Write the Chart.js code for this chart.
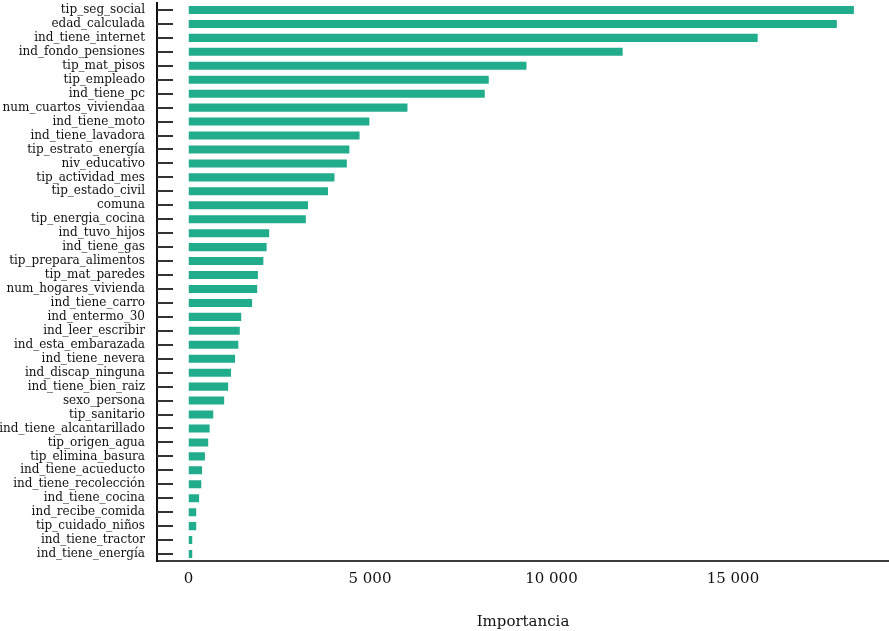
<!DOCTYPE html>
<html>
<head>
<meta charset="utf-8">
<script src="https://cdn.jsdelivr.net/npm/chart.js"></script>
<style>
  html, body { margin: 0; padding: 0; background: #fff; }
  #wrap { width: 889px; height: 631px; position: relative; }
</style>
</head>
<body>
<div id="wrap"><canvas id="importanceChart"></canvas></div>
<script>
// Variables and importance values
const variables = [
  "tip_seg_social", "edad_calculada", "ind_tiene_internet", "ind_fondo_pensiones",
  "tip_mat_pisos", "tip_empleado", "ind_tiene_pc", "num_cuartos_viviendaa",
  "ind_tiene_moto", "ind_tiene_lavadora", "tip_estrato_energía", "niv_educativo",
  "tip_actividad_mes", "tip_estado_civil", "comuna", "tip_energia_cocina",
  "ind_tuvo_hijos", "ind_tiene_gas", "tip_prepara_alimentos", "tip_mat_paredes",
  "num_hogares_vivienda", "ind_tiene_carro", "ind_entermo_30", "ind_leer_escribir",
  "ind_esta_embarazada", "ind_tiene_nevera", "ind_discap_ninguna", "ind_tiene_bien_raiz",
  "sexo_persona", "tip_sanitario", "ind_tiene_alcantarillado", "tip_origen_agua",
  "tip_elimina_basura", "ind_tiene_acueducto", "ind_tiene_recolección", "ind_tiene_cocina",
  "ind_recibe_comida", "tip_cuidado_niños", "ind_tiene_tractor", "ind_tiene_energía"
];
const importance = [
  18360, 17890, 15710, 11990,
  9340, 8300, 8190, 6060,
  5010, 4740, 4460, 4390,
  4050, 3870, 3320, 3260,
  2250, 2180, 2090, 1940,
  1920, 1780, 1480, 1440,
  1400, 1310, 1200, 1120,
  1010, 710, 610, 570,
  480, 400, 380, 320,
  240, 240, 130, 130
];
const xTicks = [0, 5000, 10000, 15000];
const xMin = -868;
const xMax = 19300;

const serif = "'DejaVu Serif', serif";

// y ticks point inward from the axis line
const inwardTicks = {
  id: "inwardTicks",
  afterDraw(chart) {
    const y = chart.scales.y;
    const ctx = chart.ctx;
    const left = chart.chartArea.left;
    ctx.save();
    ctx.strokeStyle = "#333333";
    ctx.lineWidth = 2;
    variables.forEach((v, i) => {
      const py = Math.round(y.getPixelForValue(i));
      ctx.beginPath();
      ctx.moveTo(left, py);
      ctx.lineTo(left + 16, py);
      ctx.stroke();
    });
    ctx.restore();
  }
};

new Chart(document.getElementById("importanceChart"), {
  type: "bar",
  data: {
    labels: variables,
    datasets: [{
      label: "Importancia",
      data: importance,
      backgroundColor: "#21ad8b",
      borderColor: "rgba(255,255,255,0.3)",
      borderWidth: 1,
      categoryPercentage: 1,
      barPercentage: 0.72
    }]
  },
  options: {
    indexAxis: "y",
    responsive: true,
    maintainAspectRatio: false,
    animation: false,
    layout: { padding: { top: 3, right: 0, left: 0, bottom: 0 } },
    plugins: {
      legend: { display: false },
      tooltip: { enabled: false }
    },
    scales: {
      x: {
        type: "linear",
        min: xMin,
        max: xMax,
        afterBuildTicks: (scale) => {
          scale.ticks = xTicks.map(v => ({ value: v }));
        },
        afterFit: (scale) => {
          scale.height = 70;
          scale.paddingLeft = 0;
          scale.paddingRight = 0;
        },
        grid: { display: false, drawTicks: false },
        border: { display: true, color: "#3c3c3c", width: 2 },
        ticks: {
          color: "#111",
          font: { family: serif, size: 15 },
          padding: 9,
          maxRotation: 0,
          callback: (v) => String(v).replace(/\B(?=(\d{3})+(?!\d))/g, " ")
        },
        title: {
          display: true,
          text: "Importancia",
          color: "#111",
          font: { family: serif, size: 15 },
          padding: { top: 12, bottom: 0 }
        }
      },
      y: {
        afterFit: (scale) => {
          scale.width = 157;
          scale.paddingTop = 0;
          scale.paddingBottom = 0;
        },
        grid: { display: false, drawTicks: false },
        border: { display: true, color: "#111", width: 2 },
        ticks: {
          color: "#111",
          font: { family: serif, size: 12 },
          padding: 12,
          autoSkip: false
        }
      }
    }
  },
  plugins: [inwardTicks]
});
</script>
</body>
</html>
